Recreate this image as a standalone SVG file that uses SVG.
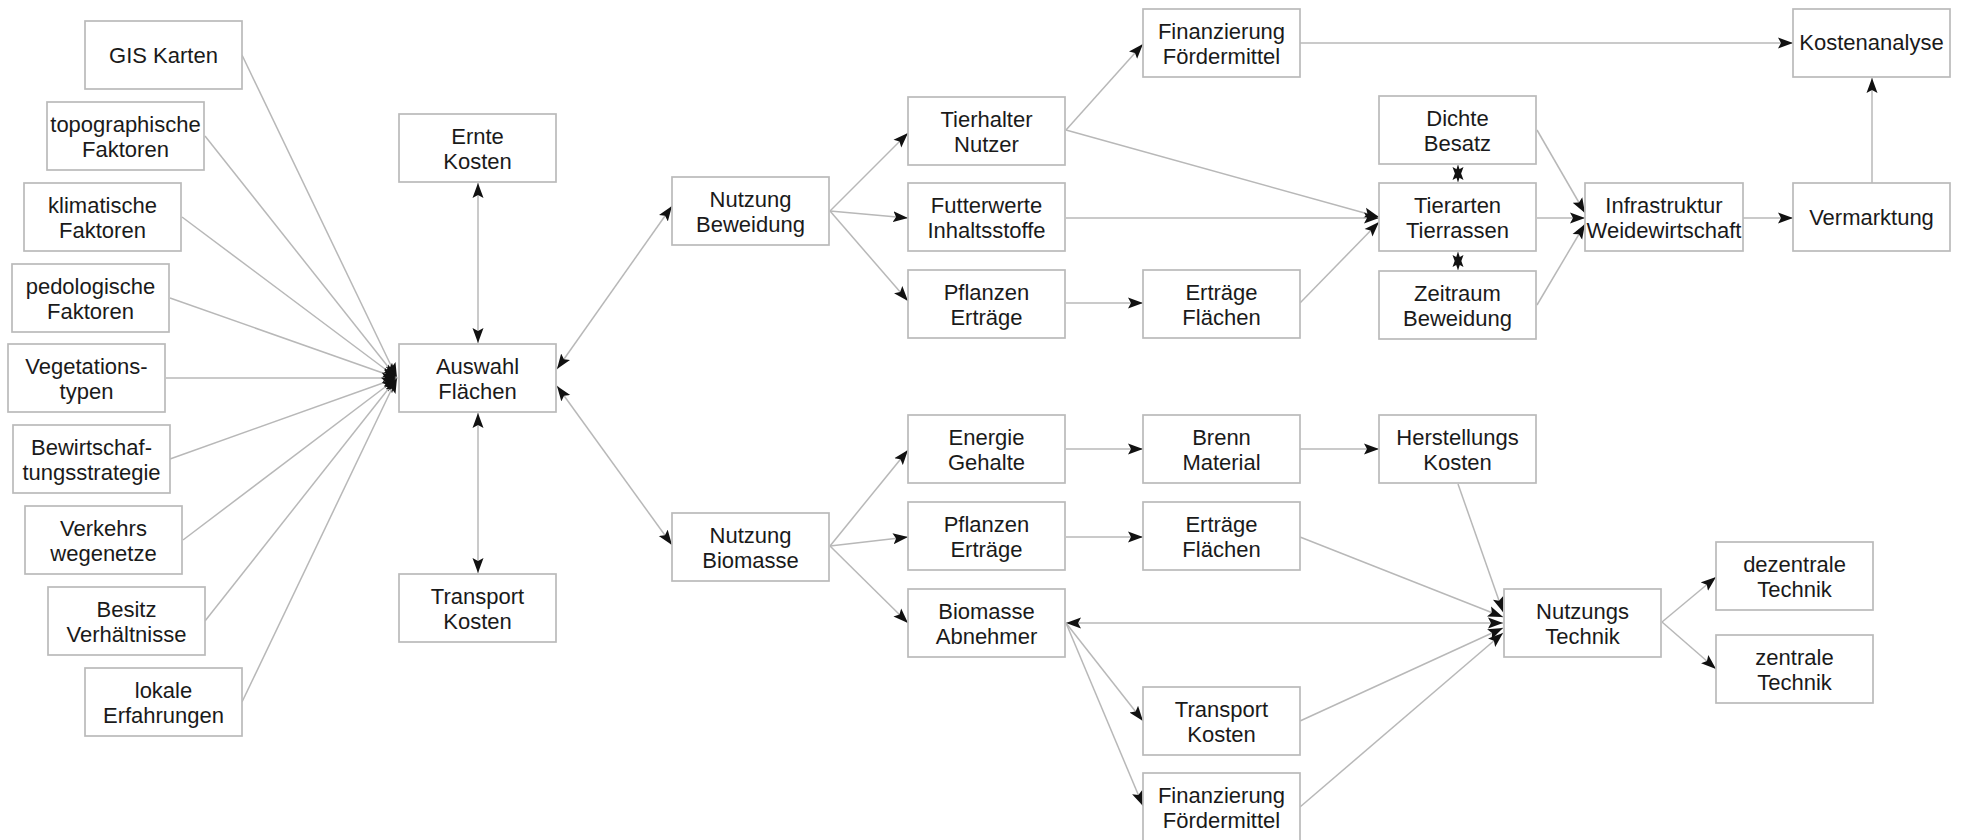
<svg xmlns="http://www.w3.org/2000/svg" width="1961" height="840" viewBox="0 0 1961 840">
<style>
.box{fill:#fff;stroke:#bababa;stroke-width:1.7}
.t{font-family:"Liberation Sans",Arial,sans-serif;font-size:22px;fill:#1a1a1a;text-anchor:middle}
.c{fill:none;stroke:#b8b8b8;stroke-width:1.5}
.a{marker-end:url(#ah)}
.d{marker-start:url(#ah);marker-end:url(#ah)}
</style>
<defs>
<marker id="ah" markerUnits="userSpaceOnUse" markerWidth="16" markerHeight="12" refX="15" refY="6" orient="auto-start-reverse" viewBox="0 0 16 12">
<path d="M0,0.5 L15,6 L0,11.5 L3,6 Z" fill="#111"/>
</marker>
</defs>
<rect width="1961" height="840" fill="#fff"/>
<g id="connectors">
<line class="c a" x1="242" y1="55" x2="397" y2="378"/>
<line class="c a" x1="205" y1="136" x2="397" y2="378"/>
<line class="c a" x1="182" y1="217" x2="397" y2="378"/>
<line class="c a" x1="170" y1="298" x2="397" y2="378"/>
<line class="c a" x1="166" y1="378" x2="397" y2="378"/>
<line class="c a" x1="170" y1="459" x2="397" y2="378"/>
<line class="c a" x1="183" y1="540" x2="397" y2="378"/>
<line class="c a" x1="205" y1="621" x2="397" y2="378"/>
<line class="c a" x1="242" y1="702" x2="397" y2="378"/>
<line class="c d" x1="478" y1="183" x2="478" y2="343"/>
<line class="c d" x1="478" y1="413" x2="478" y2="573"/>
<line class="c d" x1="557" y1="369" x2="672" y2="206"/>
<line class="c d" x1="557" y1="386" x2="672" y2="545"/>
<line class="c a" x1="830" y1="211" x2="908" y2="133"/>
<line class="c a" x1="830" y1="211" x2="908" y2="218"/>
<line class="c a" x1="830" y1="211" x2="908" y2="301"/>
<line class="c a" x1="1066" y1="130" x2="1143" y2="44"/>
<line class="c a" x1="1066" y1="130" x2="1379" y2="217"/>
<line class="c a" x1="1066" y1="218" x2="1379" y2="218"/>
<line class="c a" x1="1066" y1="303" x2="1143" y2="303"/>
<line class="c a" x1="1300" y1="303" x2="1379" y2="222"/>
<line class="c a" x1="1300" y1="43" x2="1793" y2="43"/>
<line class="c d" x1="1458" y1="165" x2="1458" y2="182"/>
<line class="c d" x1="1458" y1="252" x2="1458" y2="270"/>
<line class="c a" x1="1537" y1="130" x2="1585" y2="213"/>
<line class="c a" x1="1537" y1="218" x2="1585" y2="218"/>
<line class="c a" x1="1537" y1="305" x2="1585" y2="224"/>
<line class="c a" x1="1743" y1="218" x2="1793" y2="218"/>
<line class="c a" x1="1872" y1="183" x2="1872" y2="78"/>
<line class="c a" x1="830" y1="546" x2="908" y2="450"/>
<line class="c a" x1="830" y1="546" x2="908" y2="537"/>
<line class="c a" x1="830" y1="546" x2="908" y2="623"/>
<line class="c a" x1="1066" y1="449" x2="1143" y2="449"/>
<line class="c a" x1="1300" y1="449" x2="1379" y2="449"/>
<line class="c a" x1="1066" y1="537" x2="1143" y2="537"/>
<line class="c a" x1="1458" y1="484" x2="1503" y2="612"/>
<line class="c a" x1="1300" y1="537" x2="1503" y2="617"/>
<line class="c d" x1="1503" y1="623" x2="1066" y2="623"/>
<line class="c a" x1="1066" y1="623" x2="1143" y2="721"/>
<line class="c a" x1="1066" y1="623" x2="1143" y2="806"/>
<line class="c a" x1="1300" y1="721" x2="1503" y2="628"/>
<line class="c a" x1="1300" y1="807" x2="1503" y2="633"/>
<line class="c a" x1="1662" y1="622" x2="1716" y2="577"/>
<line class="c a" x1="1662" y1="622" x2="1716" y2="669"/>
</g>
<g id="gis"><rect class="box" x="85" y="21" width="157" height="68"/><text class="t" x="163.5" y="63">GIS Karten</text></g>
<g id="topo"><rect class="box" x="47" y="102" width="157" height="68"/><text class="t" x="125.5" y="132">topographische</text><text class="t" x="125.5" y="157">Faktoren</text></g>
<g id="klima"><rect class="box" x="24" y="183" width="157" height="68"/><text class="t" x="102.5" y="213">klimatische</text><text class="t" x="102.5" y="238">Faktoren</text></g>
<g id="pedo"><rect class="box" x="12" y="264" width="157" height="68"/><text class="t" x="90.5" y="294">pedologische</text><text class="t" x="90.5" y="319">Faktoren</text></g>
<g id="veg"><rect class="box" x="8" y="344" width="157" height="68"/><text class="t" x="86.5" y="374">Vegetations-</text><text class="t" x="86.5" y="399">typen</text></g>
<g id="bewirt"><rect class="box" x="13" y="425" width="157" height="68"/><text class="t" x="91.5" y="455">Bewirtschaf-</text><text class="t" x="91.5" y="480">tungsstrategie</text></g>
<g id="verkehr"><rect class="box" x="25" y="506" width="157" height="68"/><text class="t" x="103.5" y="536">Verkehrs</text><text class="t" x="103.5" y="561">wegenetze</text></g>
<g id="besitz"><rect class="box" x="48" y="587" width="157" height="68"/><text class="t" x="126.5" y="617">Besitz</text><text class="t" x="126.5" y="642">Verhältnisse</text></g>
<g id="lokal"><rect class="box" x="85" y="668" width="157" height="68"/><text class="t" x="163.5" y="698">lokale</text><text class="t" x="163.5" y="723">Erfahrungen</text></g>
<g id="ernte"><rect class="box" x="399" y="114" width="157" height="68"/><text class="t" x="477.5" y="144">Ernte</text><text class="t" x="477.5" y="169">Kosten</text></g>
<g id="auswahl"><rect class="box" x="399" y="344" width="157" height="68"/><text class="t" x="477.5" y="374">Auswahl</text><text class="t" x="477.5" y="399">Flächen</text></g>
<g id="transportA"><rect class="box" x="399" y="574" width="157" height="68"/><text class="t" x="477.5" y="604">Transport</text><text class="t" x="477.5" y="629">Kosten</text></g>
<g id="nbew"><rect class="box" x="672" y="177" width="157" height="68"/><text class="t" x="750.5" y="207">Nutzung</text><text class="t" x="750.5" y="232">Beweidung</text></g>
<g id="nbio"><rect class="box" x="672" y="513" width="157" height="68"/><text class="t" x="750.5" y="543">Nutzung</text><text class="t" x="750.5" y="568">Biomasse</text></g>
<g id="tierhalter"><rect class="box" x="908" y="97" width="157" height="68"/><text class="t" x="986.5" y="127">Tierhalter</text><text class="t" x="986.5" y="152">Nutzer</text></g>
<g id="futter"><rect class="box" x="908" y="183" width="157" height="68"/><text class="t" x="986.5" y="213">Futterwerte</text><text class="t" x="986.5" y="238">Inhaltsstoffe</text></g>
<g id="pflanzen1"><rect class="box" x="908" y="270" width="157" height="68"/><text class="t" x="986.5" y="300">Pflanzen</text><text class="t" x="986.5" y="325">Erträge</text></g>
<g id="energie"><rect class="box" x="908" y="415" width="157" height="68"/><text class="t" x="986.5" y="445">Energie</text><text class="t" x="986.5" y="470">Gehalte</text></g>
<g id="pflanzen2"><rect class="box" x="908" y="502" width="157" height="68"/><text class="t" x="986.5" y="532">Pflanzen</text><text class="t" x="986.5" y="557">Erträge</text></g>
<g id="abnehmer"><rect class="box" x="908" y="589" width="157" height="68"/><text class="t" x="986.5" y="619">Biomasse</text><text class="t" x="986.5" y="644">Abnehmer</text></g>
<g id="finanz1"><rect class="box" x="1143" y="9" width="157" height="68"/><text class="t" x="1221.5" y="39">Finanzierung</text><text class="t" x="1221.5" y="64">Fördermittel</text></g>
<g id="ertrag1"><rect class="box" x="1143" y="270" width="157" height="68"/><text class="t" x="1221.5" y="300">Erträge</text><text class="t" x="1221.5" y="325">Flächen</text></g>
<g id="brenn"><rect class="box" x="1143" y="415" width="157" height="68"/><text class="t" x="1221.5" y="445">Brenn</text><text class="t" x="1221.5" y="470">Material</text></g>
<g id="ertrag2"><rect class="box" x="1143" y="502" width="157" height="68"/><text class="t" x="1221.5" y="532">Erträge</text><text class="t" x="1221.5" y="557">Flächen</text></g>
<g id="transportB"><rect class="box" x="1143" y="687" width="157" height="68"/><text class="t" x="1221.5" y="717">Transport</text><text class="t" x="1221.5" y="742">Kosten</text></g>
<g id="finanz2"><rect class="box" x="1143" y="773" width="157" height="68"/><text class="t" x="1221.5" y="803">Finanzierung</text><text class="t" x="1221.5" y="828">Fördermittel</text></g>
<g id="dichte"><rect class="box" x="1379" y="96" width="157" height="68"/><text class="t" x="1457.5" y="126">Dichte</text><text class="t" x="1457.5" y="151">Besatz</text></g>
<g id="tierarten"><rect class="box" x="1379" y="183" width="157" height="68"/><text class="t" x="1457.5" y="213">Tierarten</text><text class="t" x="1457.5" y="238">Tierrassen</text></g>
<g id="zeitraum"><rect class="box" x="1379" y="271" width="157" height="68"/><text class="t" x="1457.5" y="301">Zeitraum</text><text class="t" x="1457.5" y="326">Beweidung</text></g>
<g id="herstellung"><rect class="box" x="1379" y="415" width="157" height="68"/><text class="t" x="1457.5" y="445">Herstellungs</text><text class="t" x="1457.5" y="470">Kosten</text></g>
<g id="infra"><rect class="box" x="1585" y="183" width="158" height="68"/><text class="t" x="1664" y="213">Infrastruktur</text><text class="t" x="1664" y="238">Weidewirtschaft</text></g>
<g id="nutzungstech"><rect class="box" x="1504" y="589" width="157" height="68"/><text class="t" x="1582.5" y="619">Nutzungs</text><text class="t" x="1582.5" y="644">Technik</text></g>
<g id="dezentral"><rect class="box" x="1716" y="542" width="157" height="68"/><text class="t" x="1794.5" y="572">dezentrale</text><text class="t" x="1794.5" y="597">Technik</text></g>
<g id="zentral"><rect class="box" x="1716" y="635" width="157" height="68"/><text class="t" x="1794.5" y="665">zentrale</text><text class="t" x="1794.5" y="690">Technik</text></g>
<g id="kosten"><rect class="box" x="1793" y="9" width="157" height="68"/><text class="t" x="1871.5" y="50">Kostenanalyse</text></g>
<g id="vermarkt"><rect class="box" x="1793" y="183" width="157" height="68"/><text class="t" x="1871.5" y="225">Vermarktung</text></g>
</svg>
